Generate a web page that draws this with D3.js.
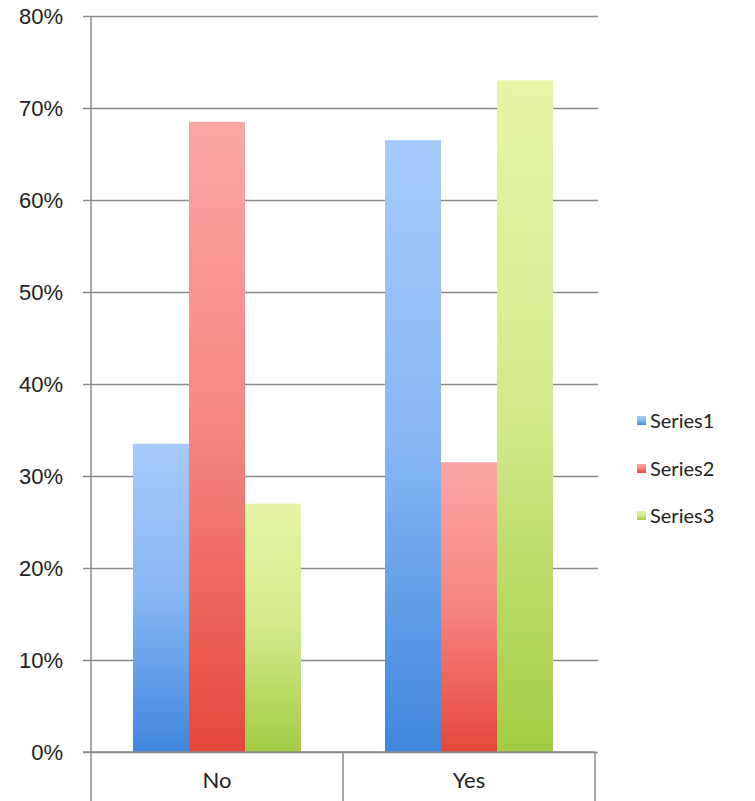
<!DOCTYPE html>
<html>
<head>
<meta charset="utf-8">
<script src="https://cdn.jsdelivr.net/npm/d3@7/dist/d3.min.js"></script>
<style>
  html, body { margin: 0; padding: 0; background: #fff; }
  svg { display: block; font-family: Lato, "Open Sans", sans-serif; }
</style>
</head>
<body>
<svg id="chart" width="755" height="801"></svg>
<script>
// Data
const categories = ["No", "Yes"];
const seriesNames = ["Series1", "Series2", "Series3"];
const series1 = [0.335, 0.665];
const series2 = [0.685, 0.315];
const series3 = [0.27, 0.73];
const yTicks = [0, 0.1, 0.2, 0.3, 0.4, 0.5, 0.6, 0.7, 0.8];

const seriesValues = [series1, series2, series3];
const palettes = [
  { top: "#a6cbfb", mid: "#86b6f4", bottom: "#3f87dc" },
  { top: "#fba6a6", mid: "#f58580", bottom: "#e6463c" },
  { top: "#e6f5a6", mid: "#d3e98a", bottom: "#a2cc44" }
];

const svg = d3.select("#chart");
const plot = { left: 91, right: 595, top: 16, bottom: 752 };

const x0 = d3.scaleBand().domain(categories).range([plot.left, plot.right]);
// gap between groups is 150% of one bar width: 3w + 2 * 0.75w = band
const x1 = d3.scaleBand().domain(seriesNames)
  .range([0, x0.bandwidth()]).paddingInner(0).paddingOuter(0.75);
const y = d3.scaleLinear().domain([0, 0.8]).range([plot.bottom, plot.top]);

// gradients for the bars
const defs = svg.append("defs");
palettes.forEach((p, i) => {
  const g = defs.append("linearGradient")
    .attr("id", "grad" + i).attr("x1", 0).attr("y1", 0).attr("x2", 0).attr("y2", 1);
  g.append("stop").attr("offset", "0%").attr("stop-color", p.top);
  g.append("stop").attr("offset", "50%").attr("stop-color", p.mid);
  g.append("stop").attr("offset", "100%").attr("stop-color", p.bottom);
});

// gridlines and left ticks
const yAxis = d3.axisLeft(y).tickValues(yTicks)
  .tickFormat(d3.format(".0%"))
  .tickSize(-(plot.right + 3 - plot.left)).tickPadding(28);
const gy = svg.append("g").attr("transform", `translate(${plot.left},0)`).call(yAxis);
gy.select(".domain").remove();
gy.selectAll(".tick line")
  .attr("x1", -8).attr("stroke", "#8a8a8a").attr("stroke-width", 1.5);
gy.selectAll(".tick text")
  .attr("fill", "#222").style("font-size", "22px").attr("dy", "0.33em");

// bars
const groups = svg.append("g").selectAll("g")
  .data(categories).join("g")
  .attr("transform", d => `translate(${x0(d)},0)`);
groups.selectAll("rect")
  .data((c, ci) => seriesNames.map((s, si) => ({ s, si, v: seriesValues[si][ci] })))
  .join("rect")
  .attr("x", d => x1(d.s))
  .attr("width", x1.bandwidth())
  .attr("y", d => y(d.v))
  .attr("height", d => y(0) - y(d.v))
  .attr("fill", d => `url(#grad${d.si})`);

// vertical axis line (runs through the category box)
svg.append("line")
  .attr("x1", plot.left).attr("x2", plot.left)
  .attr("y1", plot.top).attr("y2", 801)
  .attr("stroke", "#8a8a8a").attr("stroke-width", 1.5);

// category axis drawn as a box of cells
svg.append("line")
  .attr("x1", plot.left - 8).attr("x2", plot.right)
  .attr("y1", plot.bottom).attr("y2", plot.bottom)
  .attr("stroke", "#8a8a8a").attr("stroke-width", 1.5);
svg.append("g").selectAll("line")
  .data(categories)
  .join("line")
  .attr("x1", d => x0(d) + x0.bandwidth()).attr("x2", d => x0(d) + x0.bandwidth())
  .attr("y1", plot.bottom).attr("y2", 801)
  .attr("stroke", "#8a8a8a").attr("stroke-width", 1.5);
svg.append("g").selectAll("text")
  .data(categories)
  .join("text")
  .attr("x", d => x0(d) + x0.bandwidth() / 2)
  .attr("y", 788)
  .attr("text-anchor", "middle")
  .attr("fill", "#222")
  .style("font-size", "22px")
  .text(d => d);

// legend
const legend = svg.append("g").attr("transform", "translate(637,0)");
const legendY = [421, 469, 516];
seriesNames.forEach((s, i) => {
  legend.append("rect")
    .attr("x", 0).attr("y", legendY[i] - 5)
    .attr("width", 9).attr("height", 9)
    .attr("fill", `url(#grad${i})`);
  legend.append("text")
    .attr("x", 13).attr("y", legendY[i]).attr("dy", "0.35em")
    .attr("fill", "#222").style("font-size", "20px")
    .text(s);
});
</script>
</body>
</html>
